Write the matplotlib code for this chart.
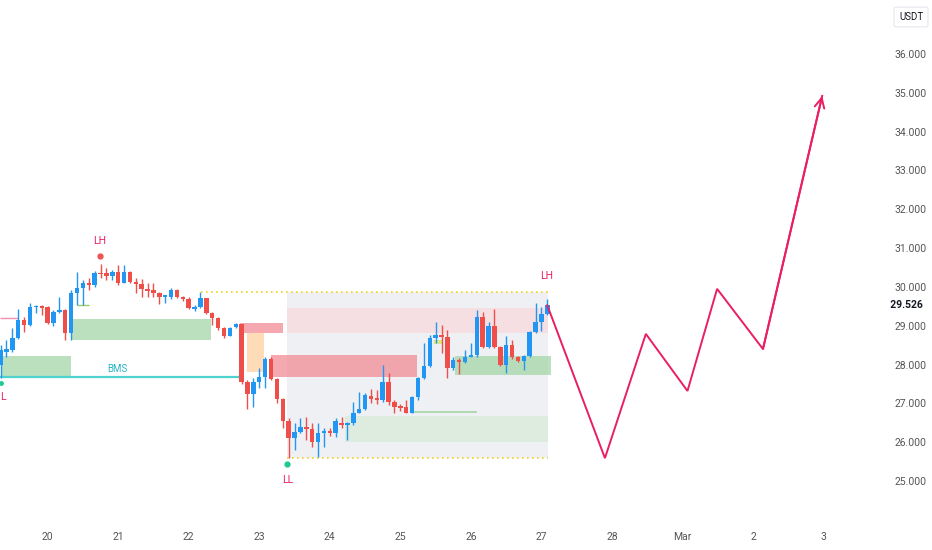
import numpy as np
import matplotlib.pyplot as plt
from matplotlib.patches import Rectangle
from matplotlib.transforms import blended_transform_factory

plt.rcParams['font.family'] = ['Roboto', 'DejaVu Sans']

# 2h candles, first one at Feb 19 08:00 (x axis in days of February)
opens = [27.99, 28.32, 28.38, 28.68, 29.15, 29.02, 29.48, 29.51, 29.48, 29.07,
         29.35, 29.41, 28.81, 29.84, 29.97, 30.10, 30.05, 30.36, 30.36, 30.28,
         30.38, 30.10, 30.38, 30.13, 30.08, 29.95, 29.92, 29.84, 29.74, 29.74,
         29.92, 29.74, 29.69, 29.43, 29.48, 29.71, 29.33, 29.20, 28.94, 28.74,
         28.97, 29.04, 27.55, 27.24, 27.55, 27.68, 28.14, 27.63, 27.11, 26.55,
         26.11, 26.26, 26.39, 26.34, 26.01, 26.24, 26.29, 26.24, 26.49, 26.44,
         26.49, 26.75, 26.86, 27.19, 27.14, 27.09, 27.55, 27.04, 26.91, 26.91,
         26.75, 27.16, 27.65, 27.96, 28.68, 28.76, 28.71, 27.91, 28.12, 28.07,
         28.19, 28.25, 29.23, 28.45, 28.99, 28.45, 27.99, 28.50, 28.19, 28.09,
         28.22, 28.84, 29.10, 29.30]
highs = [28.50, 28.63, 28.94, 29.43, 29.23, 29.59, 29.53, 29.53, 29.51, 29.41,
         29.74, 29.43, 29.92, 30.38, 30.18, 30.23, 30.41, 30.59, 30.49, 30.44,
         30.56, 30.56, 30.41, 30.23, 30.20, 30.10, 30.10, 29.87, 29.79, 29.97,
         29.94, 29.76, 29.74, 29.53, 29.87, 29.71, 29.35, 29.23, 28.97, 28.97,
         29.07, 29.04, 27.60, 27.65, 27.91, 28.19, 28.19, 27.65, 27.14, 26.62,
         26.49, 26.62, 26.65, 26.49, 26.49, 26.37, 26.37, 26.62, 26.65, 26.52,
         27.04, 27.29, 27.27, 27.37, 27.35, 27.99, 27.78, 27.09, 26.99, 27.09,
         27.19, 27.68, 28.56, 28.75, 29.10, 29.02, 28.89, 28.19, 28.17, 28.38,
         28.56, 29.41, 29.35, 29.10, 29.43, 28.48, 28.74, 28.63, 28.22, 28.25,
         28.86, 29.59, 29.48, 29.69]
lows = [27.65, 28.19, 28.32, 28.66, 28.84, 28.99, 29.33, 29.28, 29.04, 28.99,
        29.33, 28.63, 28.63, 29.53, 29.53, 29.92, 30.00, 30.23, 30.18, 30.18,
        30.05, 30.10, 30.10, 29.84, 29.74, 29.74, 29.74, 29.56, 29.59, 29.69,
        29.71, 29.64, 29.43, 29.38, 29.46, 29.30, 29.02, 28.89, 28.68, 28.74,
        28.94, 27.50, 26.86, 26.91, 27.40, 27.40, 27.60, 27.01, 26.37, 25.59,
        25.80, 26.24, 26.06, 25.88, 25.62, 25.88, 26.16, 26.14, 26.37, 26.06,
        26.44, 26.75, 26.83, 27.01, 26.99, 27.04, 26.96, 26.75, 26.80, 26.75,
        26.75, 27.09, 27.63, 27.94, 28.56, 28.30, 27.65, 27.86, 27.76, 28.04,
        28.19, 28.19, 28.43, 28.43, 28.43, 27.96, 27.78, 28.14, 28.07, 27.86,
        28.19, 28.81, 28.86, 29.28]
closes = [28.38, 28.40, 28.68, 29.15, 29.02, 29.48, 29.51, 29.46, 29.07, 29.35,
          29.41, 28.81, 29.84, 29.97, 30.10, 30.05, 30.36, 30.33, 30.28, 30.38,
          30.10, 30.38, 30.13, 30.08, 29.95, 29.89, 29.84, 29.74, 29.76, 29.92,
          29.74, 29.69, 29.46, 29.48, 29.71, 29.33, 29.20, 28.94, 28.74, 28.94,
          29.04, 27.55, 27.24, 27.55, 27.68, 28.14, 27.63, 27.11, 26.55, 26.11,
          26.26, 26.39, 26.34, 26.01, 26.24, 26.29, 26.24, 26.55, 26.44, 26.49,
          26.75, 26.86, 27.22, 27.11, 27.09, 27.55, 27.04, 26.91, 26.88, 26.75,
          27.16, 27.65, 27.96, 28.68, 28.76, 28.71, 27.91, 28.12, 28.07, 28.19,
          28.25, 29.23, 28.45, 28.99, 28.45, 27.99, 28.50, 28.19, 28.09, 28.22,
          28.84, 29.10, 29.30, 29.526]
first_candle_day = 19 + 4 / 12
last_price = 29.526

# projected path (day, price)
path_days = [27.083, 27.90, 28.48, 29.07, 29.49, 30.14, 30.98]
path_prices = [29.526, 25.59, 28.79, 27.32, 29.95, 28.40, 34.92]

# zones: (day_from, day_to, price_low, price_high)
demand_zones = [(19.35, 20.33, 27.71, 28.22), (20.33, 22.32, 28.63, 29.17),
                (25.78, 27.14, 27.74, 28.22)]
range_box = (23.40, 27.10, 25.59, 29.87)
range_top_start = 22.17
premium_band = (23.40, 27.10, 28.81, 29.46)
discount_band = (24.22, 27.10, 26.01, 26.68)
supply_zones = [(22.73, 23.33, 28.81, 29.07), (23.16, 25.23, 27.68, 28.25)]
imbalance = (22.83, 23.07, 27.81, 28.81)
bms_level = 27.68
bms_end = 22.73

day_ticks = list(range(20, 32))
day_labels = ['20', '21', '22', '23', '24', '25', '26', '27', '28', 'Mar', '2', '3']
price_ticks = list(range(25, 37))

up_col = '#2196f3'
down_col = '#ef4f4a'
magenta = '#e91e63'
teal = '#4fd1d0'

fig = plt.figure(figsize=(9.32, 5.5), dpi=100)
ax = fig.add_axes([0, 30 / 550, 885 / 932, 520 / 550])

ax.set_xlim(19.325, 31.87)
ax.set_ylim(23.996, 37.39)

def box(z, color, alpha=1.0, zo=1):
    ax.add_patch(Rectangle((z[0], z[2]), z[1] - z[0], z[3] - z[2],
                           facecolor=color, edgecolor='none', alpha=alpha, zorder=zo))

box(range_box, '#eef0f3')
box(premium_band, '#f5dfe2')
box(discount_band, '#deebdf')
for z in demand_zones:
    box(z, '#a5d6a7', 0.75, 1.5)
for z in supply_zones:
    box(z, '#f28b95', 0.75, 1.5)
box(imbalance, '#ffcc99', 0.7, 1.5)
box((25.48, 25.61, 28.53, 28.63), '#dce775', 0.9, 1.6)

# range edges
ax.hlines(range_box[3], range_top_start, range_box[1], colors='#f2d21c',
          linestyles=(0, (1, 2)), lw=1.2, zorder=2)
ax.hlines(range_box[2], range_box[0], range_box[1], colors='#f2d21c',
          linestyles=(0, (1, 2)), lw=1.2, zorder=2)

# structure lines
ax.hlines(bms_level, 19.325, bms_end, colors=teal, lw=1.6, zorder=2)
ax.text(20.99, bms_level + 0.08, 'BMS', color='#26b5c6', fontsize=7,
        ha='center', va='bottom', zorder=5)
ax.hlines(29.20, 19.325, 19.575, colors='#f48fb1', lw=1, zorder=2)
ax.hlines(29.53, 20.41, 20.58, colors='#9ccc65', lw=1, zorder=2)
ax.hlines(26.78, 25.14, 26.08, colors='#a5d6a7', lw=1.2, zorder=2)

# candles
o = np.array(opens)
h = np.array(highs)
l = np.array(lows)
c = np.array(closes)
t = first_candle_day + np.arange(len(o)) / 12
cols = np.where(c >= o, up_col, down_col)
ax.vlines(t, l, h, colors=cols, lw=1, zorder=3)
bottoms = np.minimum(o, c)
heights = np.maximum(np.abs(c - o), 0.04)
ax.bar(t, heights, bottom=bottoms, width=0.063, color=cols, zorder=3.5)

# swing labels
ax.text(20.737, 31.18, 'LH', color=magenta, fontsize=7.5, ha='center', va='center')
ax.plot([20.737], [30.80], 'o', color='#ef5350', ms=3.5, zorder=4)
ax.text(27.07, 30.28, 'LH', color=magenta, fontsize=7.5, ha='center', va='center')
ax.text(23.40, 25.03, 'LL', color=magenta, fontsize=7.5, ha='center', va='center')
ax.plot([23.40], [25.44], 'o', color='#1fc98f', ms=3.5, zorder=4)
ax.text(19.328, 27.16, 'L', color=magenta, fontsize=7.5, ha='left', va='center')
ax.plot([19.335], [27.52], 'o', color='#1fc98f', ms=2.5, zorder=4)

# projected path with arrow head
ax.plot(path_days, path_prices, color=magenta, lw=1.4, zorder=5,
        solid_joinstyle='miter')
ax.annotate('', xy=(path_days[-1], path_prices[-1]),
            xytext=(path_days[-2], path_prices[-2]),
            arrowprops=dict(arrowstyle='->,head_length=0.7,head_width=0.35',
                            color=magenta, lw=1.4, shrinkA=0, shrinkB=0), zorder=5)

# axes styling
for s in ax.spines.values():
    s.set_visible(False)
ax.yaxis.tick_right()
ax.set_yticks(price_ticks)
ax.set_yticklabels([f'{p:.3f}' for p in price_ticks])
ax.set_xticks(day_ticks)
ax.set_xticklabels(day_labels)
ax.tick_params(axis='y', length=0, pad=7, labelsize=7.5, labelcolor='#555555')
ax.tick_params(axis='x', length=0, pad=9, labelsize=7.5, labelcolor='#555555')

trans = blended_transform_factory(ax.transAxes, ax.transData)
ax.text(1.0, last_price, '  29.526', transform=trans, fontsize=7.5,
        fontweight='bold', color='#131722', ha='left', va='center')

fig.text(911 / 932, 1 - 17 / 550, 'USDT', fontsize=7, color='#131722',
         ha='center', va='center',
         bbox=dict(boxstyle='round,pad=0.5,rounding_size=0.2', fc='white',
                   ec='#e6e8ee', lw=0.8))

fig.savefig('out.png', dpi=100)
